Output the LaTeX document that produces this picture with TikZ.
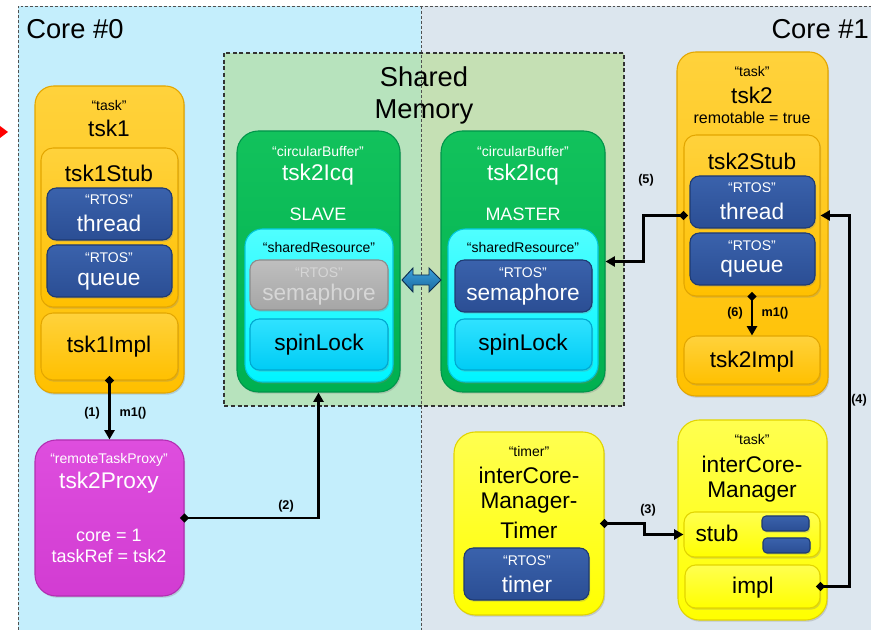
\documentclass[tikz,border=0pt]{standalone}
\usepackage{fontspec}
\setmainfont{Liberation Sans}
\usetikzlibrary{arrows.meta,fit,shadows}
\definecolor{cZero}{HTML}{C4EEFC}
\definecolor{cOne}{HTML}{DCE6EE}
\definecolor{smL}{HTML}{B7E3BD}
\definecolor{smR}{HTML}{C5E0B4}
\definecolor{orT}{HTML}{FFD23C}
\definecolor{orM}{HTML}{FFC000}
\definecolor{orD}{HTML}{E3A600}
\definecolor{blT}{HTML}{3A62AC}
\definecolor{blM}{HTML}{2B4E94}
\definecolor{blD}{HTML}{1E3A72}
\definecolor{grT}{HTML}{12C25C}
\definecolor{grM}{HTML}{00B050}
\definecolor{grD}{HTML}{00944A}
\definecolor{cyT}{HTML}{50FFFF}
\definecolor{cyM}{HTML}{00F4FF}
\definecolor{cyD}{HTML}{00C8DA}
\definecolor{skT}{HTML}{30E2FF}
\definecolor{skM}{HTML}{00CCF5}
\definecolor{skD}{HTML}{00A8D0}
\definecolor{gyT}{HTML}{BFBFBF}
\definecolor{gyM}{HTML}{A6A6A6}
\definecolor{gyD}{HTML}{8C8C8C}
\definecolor{gyTxt}{HTML}{D6D6D6}
\definecolor{mgT}{HTML}{DE4EDE}
\definecolor{mgM}{HTML}{D23CD2}
\definecolor{mgD}{HTML}{B22EB2}
\definecolor{ylT}{HTML}{FFFF50}
\definecolor{ylM}{HTML}{FFFF00}
\definecolor{ylD}{HTML}{E2D400}
\definecolor{arT}{HTML}{3AA0DC}
\definecolor{arM}{HTML}{1C6A9E}
\definecolor{arD}{HTML}{0E2E4E}
\definecolor{dashc}{HTML}{505050}
\tikzset{
  box/.style={rounded corners=#1, inner sep=0pt, line width=0.8pt,
    drop shadow={shadow xshift=0.9pt, shadow yshift=-1.3pt, opacity=0.3}},
  box/.default=12pt,
  orbox/.style={box=14pt, draw=orD, top color=orT, bottom color=orM},
  orin/.style={box=9pt, draw=orD, top color=orT, bottom color=orM},
  blbox/.style={box=7pt, draw=blD, top color=blT, bottom color=blM},
  blbar/.style={box=3pt, draw=blD, top color=blT, bottom color=blM},
  grbox/.style={box=16pt, draw=grD, top color=grT, bottom color=grM},
  cybox/.style={box=13pt, draw=cyD, top color=cyT, bottom color=cyM},
  skbox/.style={box=7pt, draw=skD, top color=skT, bottom color=skM},
  gybox/.style={box=7pt, draw=gyD, top color=gyT, bottom color=gyM},
  mgbox/.style={box=16pt, draw=mgD, top color=mgT, bottom color=mgM},
  ylbox/.style={box=16pt, draw=ylD, top color=ylT, bottom color=ylM},
  ylin/.style={box=8pt, draw=ylD, top color=ylT, bottom color=ylM},
  ster/.style={font=\fontsize{10.5}{12}\selectfont, inner sep=0pt},
  big/.style={font=\fontsize{17}{19}\selectfont, inner sep=0pt},
  mid/.style={font=\fontsize{13.5}{15}\selectfont, inner sep=0pt},
  small/.style={font=\fontsize{12}{14}\selectfont, inner sep=0pt},
  title/.style={font=\fontsize{20.5}{24}\selectfont, inner sep=0pt},
  lbl/.style={font=\bfseries\fontsize{9.5}{11}\selectfont, inner sep=0pt},
  conn/.style={line width=2pt, shorten <=-3.5pt,
    {Diamond[length=7pt,width=7pt]}-{Triangle[length=7pt,width=7.5pt]}},
  panel/.style={dashc, dash pattern=on 2.2pt off 1.5pt, line width=0.6pt}
}
\begin{document}
\begin{tikzpicture}[x=0.75pt,y=-0.75pt]
\useasboundingbox (0,0) rectangle (871,630);
% panels
\fill[white] (0,0) rectangle (871,630);
\fill[cZero] (18,6) rectangle (421,630);
\fill[cOne] (421,6) rectangle (871,630);
\fill[smL] (224,53) rectangle (421,406);
\fill[smR] (421,53) rectangle (624,406);
\draw[panel] (18,630) -- (18,6) -- (871,6);
\draw[panel] (421,6) -- (421,630);
\draw[panel, line width=0.8pt, dash pattern=on 3pt off 2pt, black!80] (224,53) rectangle (624,406);
\fill[red] (0,126) -- (8,132) -- (0,138) -- cycle;
% titles
\node[title, anchor=west] (core0) at (26,29) {Core \#0};
\node[title, anchor=east] (core1) at (869,29) {Core \#1};
\node[title, align=center] (shmem) at (424,95) {Shared\\Memory};

% tsk1
\node[orbox, fit={(35,86) (184,393)}] (tsk1) {};
\node[orin, fit={(41,148) (178,307)}] (tsk1Stub) {};
\node[blbox, fit={(47,188) (172,240)}] (thread1) {};
\node[blbox, fit={(47,245) (172,297)}] (queue1) {};
\node[orin, fit={(41,313) (178,380)}] (tsk1Impl) {};
\node[ster] (t1s) at (109,106) {“task”};
\node[big] (t1n) at (109,128) {tsk1};
\node[big] (t1st) at (109,173) {tsk1Stub};
\node[ster, white] (t1rt) at (109,200) {“RTOS”};
\node[big, white] (t1th) at (109,223) {thread};
\node[ster, white] (t1rq) at (109,258) {“RTOS”};
\node[big, white] (t1q) at (109,282) {queue};
\node[big] (t1i) at (109,347) {tsk1Impl};

% proxy
\node[mgbox, fit={(35,440) (184,596)}] (proxy) {};
\node[ster, white] (ps) at (109,460) {“remoteTaskProxy”};
\node[big, white] (pn) at (109,483) {tsk2Proxy};
\node[mid, white] (pc) at (109,535) {core = 1};
\node[mid, white] (pt) at (109,556) {taskRef = tsk2};

% slave
\node[grbox, fit={(237,131) (400,392)}] (slave) {};
\node[cybox, fit={(245,229) (393,382)}] (slaveSR) {};
\node[gybox, fit={(250,260) (388,310)}] (slaveSem) {};
\node[skbox, fit={(250,319) (388,370)}] (slaveSpin) {};
\node[ster, white] (ss) at (318,152) {“circularBuffer”};
\node[big, white] (sn) at (318,175) {tsk2Icq};
\node[mid, white] (sm) at (318,214) {SLAVE};
\node[ster] (ssr) at (319,248) {“sharedResource”};
\node[ster, gyTxt] (srt) at (319,273) {“RTOS”};
\node[big, gyTxt] (ssem) at (319,295) {semaphore};
\node[big] (sspin) at (319,345) {spinLock};

% master
\node[grbox, fit={(441,131) (605,392)}] (master) {};
\node[cybox, fit={(448,229) (598,382)}] (masterSR) {};
\node[blbox, fit={(455,260) (592,312)}] (masterSem) {};
\node[skbox, fit={(455,319) (592,370)}] (masterSpin) {};
\node[ster, white] (ms) at (523,152) {“circularBuffer”};
\node[big, white] (mn) at (523,175) {tsk2Icq};
\node[mid, white] (mm) at (523,214) {MASTER};
\node[ster] (msr) at (523,248) {“sharedResource”};
\node[ster, white] (mrt) at (523,273) {“RTOS”};
\node[big, white] (msem) at (523,295) {semaphore};
\node[big] (mspin) at (523,345) {spinLock};

% double arrow
\draw[line width=0.7pt, draw=arD, top color=arT, bottom color=arM]
  (402,280) -- (413,268) -- (413,275) -- (429,275) -- (429,268) -- (441,280)
  -- (429,292) -- (429,285) -- (413,285) -- (413,292) -- cycle;

% tsk2
\node[orbox, fit={(677,52) (828,396)}] (tsk2) {};
\node[orin, fit={(684,135) (820,296)}] (tsk2Stub) {};
\node[blbox, fit={(690,176) (815,228)}] (thread2) {};
\node[blbox, fit={(690,233) (815,285)}] (queue2) {};
\node[orin, fit={(684,336) (820,384)}] (tsk2Impl) {};
\node[ster] (t2s) at (752,72) {“task”};
\node[big] (t2n) at (752,95) {tsk2};
\node[small] (t2r) at (752,118) {remotable = true};
\node[big] (t2st) at (752,161) {tsk2Stub};
\node[ster, white] (t2rt) at (752,188) {“RTOS”};
\node[big, white] (t2th) at (752,211) {thread};
\node[ster, white] (t2rq) at (752,246) {“RTOS”};
\node[big, white] (t2q) at (752,269) {queue};
\node[big] (t2i) at (752,362) {tsk2Impl};

% timer
\node[ylbox, fit={(454,432) (604,615)}] (timerBox) {};
\node[blbox, fit={(464,548) (589,600)}] (rtosTimer) {};
\node[ster] (tms) at (529,451) {“timer”};
\node[big] (tm1) at (529,475) {interCore-};
\node[big] (tm2) at (529,503) {Manager-};
\node[big] (tm3) at (529,530) {Timer};
\node[ster, white] (tmr) at (527,561) {“RTOS”};
\node[big, white] (tmt) at (527,584) {timer};

% interCoreManager
\node[ylbox, fit={(678,420) (827,620)}] (icm) {};
\node[ylin, fit={(684,512) (820,557)}] (stub) {};
\node[blbar, fit={(762,516) (809,531)}] (bar1) {};
\node[blbar, fit={(763,538) (810,553)}] (bar2) {};
\node[ylin, fit={(685,565) (820,608)}] (impl) {};
\node[ster] (ims) at (752,439) {“task”};
\node[big] (im1) at (752,464) {interCore-};
\node[big] (im2) at (752,492) {Manager};
\node[big] (stubt) at (717,533) {stub};
\node[big] (implt) at (753,588) {impl};

% connectors
\draw[conn] (tsk1Impl.south) -- (proxy.north);
\draw[conn] (proxy.east) -| (slave.south);
\draw[conn] (timerBox.east) -- ++(40,0) |- (stub.west);
\draw[conn] (impl.east) -- ++(29,0) |- (tsk2Stub.east);
\draw[conn] (tsk2Stub.west) -- ++(-40,0) |- (master.east);
\draw[conn] (tsk2Stub.south) -- (tsk2Impl.north);

% labels
\node[lbl] (l1) at (92,413) {(1)};
\node[lbl] (l1m) at (133,413) {m1()};
\node[lbl] (l2) at (286,506) {(2)};
\node[lbl] (l3) at (648,510) {(3)};
\node[lbl] (l4) at (859,400) {(4)};
\node[lbl] (l5) at (646,180) {(5)};
\node[lbl] (l6) at (735,313) {(6)};
\node[lbl] (l6m) at (775,313) {m1()};
\end{tikzpicture}
\end{document}
